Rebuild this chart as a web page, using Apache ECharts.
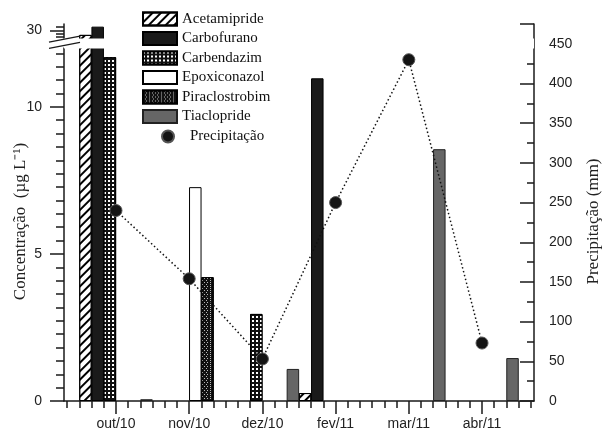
<!DOCTYPE html>
<html><head><meta charset="utf-8">
<script src="https://cdn.jsdelivr.net/npm/echarts@6/dist/echarts.min.js"></script>
<style>html,body{margin:0;padding:0;background:#fff}#c{width:603px;height:430px}</style>
</head><body><div id="c"></div>
<script>
// month labels and their slot on the sampling axis (6 slots per month)
const months = ['out/10', 'nov/10', 'dez/10', 'fev/11', 'mar/11', 'abr/11'];
const monthSlot = [0, 6, 12, 18, 24, 30];
const slotMin = -4.26, slotMax = 34.26;

// precipitation (mm), right axis
const precipitacao = [240, 154, 53, 250, 430, 73];

// concentrations (µg/L), left axis: slot centre + value
const acetamiprideX = [-2.5, 15.5];
const acetamiprideY = [29.85, 0.27];
const carbofuranoX = [-1.5, 16.5];
const carbofuranoY = [30.13, 10.97];
const carbendazimX = [-0.5, 11.5];
const carbendazimY = [11.69, 2.96];
const epoxiconazolX = [6.5];
const epoxiconazolY = [7.27];
const piraclostrobimX = [7.5];
const piraclostrobimY = [4.21];
const tiaclopridX = [2.5, 14.5, 26.5, 32.5];
const tiaclopridY = [0.06, 1.09, 8.56, 1.46];

// left axis ticks
const leftTicks = [0, 5, 10, 30];
const leftBreak = { start: 12, end: 29.75 };

const pairs = (xs, ys) => xs.map((x, i) => [x, ys[i]]);

// minor tick positions (axis decoration)
const slotMinor = [];
for (let s = Math.ceil(slotMin); s <= Math.floor(slotMax); s++) slotMinor.push(s);
const leftMinor = [];
for (let k = 1; k * 5 / 11 < leftBreak.start; k++) if (k % 11) leftMinor.push(k * 5 / 11);
[-2, -1, 1].forEach((k) => leftMinor.push(30 + k * 5 / 44));

const INK = '#1a1a1a';
const AX = { color: INK, width: 1.5 };
const serif = 'Liberation Serif';
const sans = 'Liberation Sans';

function barSeries(name, xs, ys, style) {
  return {
    name, type: 'bar', xAxisIndex: 0, yAxisIndex: 0,
    data: pairs(xs, ys), barWidth: 12.5, barGap: '-100%',
    itemStyle: Object.assign({ borderColor: '#000', borderWidth: 1 }, style),
    emphasis: { disabled: true }
  };
}

const leftBase = {
  type: 'value', min: 0, max: 30.22, position: 'left',
  breaks: [{ start: leftBreak.start, end: leftBreak.end, gap: '2.7%' }],
  splitLine: { show: false }
};

const chart = echarts.init(document.getElementById('c'), null, { renderer: 'canvas' });
const option = {
  animation: false,
  backgroundColor: '#fff',
  grid: { left: 64, right: 69, top: 24, bottom: 29, containLabel: false, outerBoundsMode: 'none' },
  legend: [{
    data: ['Acetamipride', 'Carbofurano', 'Carbendazim', 'Epoxiconazol', 'Piraclostrobim', 'Tiaclopride'],
    orient: 'vertical', left: 142, top: 11.5, padding: 0, z: 300,
    itemWidth: 34, itemHeight: 13, itemGap: 4.5,
    icon: 'rect', selectedMode: false,
    textStyle: { fontFamily: serif, fontSize: 15, color: '#111', lineHeight: 13 }
  }, {
    data: [{ name: 'Precipitação', icon: 'circle' }],
    orient: 'vertical', left: 161, top: 129, padding: 0, z: 300,
    itemWidth: 12, itemHeight: 12,
    selectedMode: false,
    lineStyle: { color: 'rgba(0,0,0,0)', width: 0 },
    textStyle: { fontFamily: serif, fontSize: 15, color: '#111', padding: [0, 0, 0, 11] }
  }],
  xAxis: [{
    type: 'value', min: slotMin, max: slotMax, position: 'bottom',
    axisLine: { show: true, onZero: false, lineStyle: AX },
    axisTick: { show: true, length: 7, lineStyle: AX, customValues: slotMinor },
    axisLabel: { show: false },
    splitLine: { show: false }
  }, {
    type: 'value', min: slotMin, max: slotMax, position: 'bottom',
    axisLine: { show: false, onZero: false },
    axisTick: { show: true, length: 13, lineStyle: AX, customValues: monthSlot },
    axisLabel: {
      customValues: monthSlot, margin: 16, fontFamily: sans, fontSize: 14, color: '#222',
      formatter: (v) => months[monthSlot.indexOf(Math.round(v))] || ''
    },
    splitLine: { show: false }
  }],
  yAxis: [Object.assign({}, leftBase, {
    breakArea: {
      show: true, expandOnClick: false, zigzagAmplitude: 0, zigzagZ: 100,
      itemStyle: { color: '#fff', borderColor: 'rgba(0,0,0,0)', borderWidth: 0, opacity: 1 }
    },
    axisLine: { show: true, onZero: false, lineStyle: AX },
    axisTick: { show: true, inside: false, length: 14, lineStyle: AX, customValues: leftTicks },
    minorTick: { show: false },
    axisLabel: {
      customValues: leftTicks, margin: 22, fontFamily: sans, fontSize: 14, color: '#222',
      formatter: (v) => String(Math.round(v))
    },
    name: 'Concentração  (µg L⁻¹)', nameLocation: 'middle', nameRotate: 90, nameGap: 35,
    nameMoveOverlap: false,
    nameTextStyle: { fontFamily: serif, fontSize: 17, color: '#222', padding: [0, 18, 0, 0] }
  }), {
    type: 'value', min: 0, max: 475, interval: 50, position: 'right',
    axisLine: { show: true, onZero: false, lineStyle: AX },
    axisTick: { show: true, inside: true, length: 14, lineStyle: AX },
    minorTick: { show: true, splitNumber: 2, length: 7, lineStyle: AX },
    splitLine: { show: false },
    axisLabel: {
      margin: 15, fontFamily: sans, fontSize: 14, color: '#222',
      formatter: (v) => (v % 50 === 0 ? String(v) : '')
    },
    name: 'Precipitação (mm)', nameLocation: 'middle', nameRotate: 90, nameGap: 51,
    nameMoveOverlap: false,
    nameTextStyle: { fontFamily: serif, fontSize: 17, color: '#222', padding: [0, 18, 0, 0] }
  }, Object.assign({}, leftBase, {
    breakArea: { show: false },
    axisLine: { show: false, onZero: false },
    axisTick: { show: true, inside: false, length: 8, lineStyle: AX, customValues: leftMinor },
    axisLabel: { show: false }
  })],
  series: [
    barSeries('Acetamipride', acetamiprideX, acetamiprideY, {
      color: '#fff',
      decal: { symbol: 'rect', color: '#000', dashArrayX: [1, 0], dashArrayY: [1.4, 3.8], rotation: -Math.PI / 4, symbolSize: 1 }
    }),
    barSeries('Carbofurano', carbofuranoX, carbofuranoY, { color: '#1a1a1a' }),
    barSeries('Carbendazim', carbendazimX, carbendazimY, {
      color: '#111',
      decal: { symbol: 'rect', color: '#fff', dashArrayX: [1.3, 1.7], dashArrayY: [1.3, 1.7], rotation: 0, symbolSize: 1 }
    }),
    barSeries('Epoxiconazol', epoxiconazolX, epoxiconazolY, { color: '#fff' }),
    barSeries('Piraclostrobim', piraclostrobimX, piraclostrobimY, {
      color: '#111',
      decal: { symbol: 'rect', color: '#bbb', dashArrayX: [[1, 2], [0, 1.5, 1, 0.5]], dashArrayY: [1, 0.5], rotation: 0, symbolSize: 1 }
    }),
    barSeries('Tiaclopride', tiaclopridX, tiaclopridY, { color: '#666', borderColor: '#222' }),
    {
      name: 'Precipitação', type: 'line', xAxisIndex: 0, yAxisIndex: 1, z: 10,
      data: pairs(monthSlot, precipitacao),
      symbol: 'circle', symbolSize: 12, showSymbol: true,
      itemStyle: { color: '#141414', borderColor: '#555', borderWidth: 1 },
      lineStyle: { color: '#111', width: 1.5, type: [1.5, 2.5] },
      emphasis: { disabled: true }
    }
  ]
};
chart.setOption(option);

// axis break marks (//) at the edges of the break gap
const axX = chart.convertToPixel({ xAxisIndex: 0, yAxisIndex: 0 }, [slotMin, 0])[0];
const yLow = chart.convertToPixel({ xAxisIndex: 0, yAxisIndex: 0 }, [slotMin, leftBreak.start])[1];
const yHigh = chart.convertToPixel({ xAxisIndex: 0, yAxisIndex: 0 }, [slotMin, leftBreak.end])[1];
const mark = (y) => ({
  type: 'line', z: 200,
  shape: { x1: axX - 15, y1: y + 2.9, x2: axX + 16, y2: y - 3.1 },
  style: { stroke: INK, lineWidth: 1.3 }
});
chart.setOption({ graphic: [mark(yHigh + 1.5), mark(yLow - 2.5)] });
</script>
</body></html>
